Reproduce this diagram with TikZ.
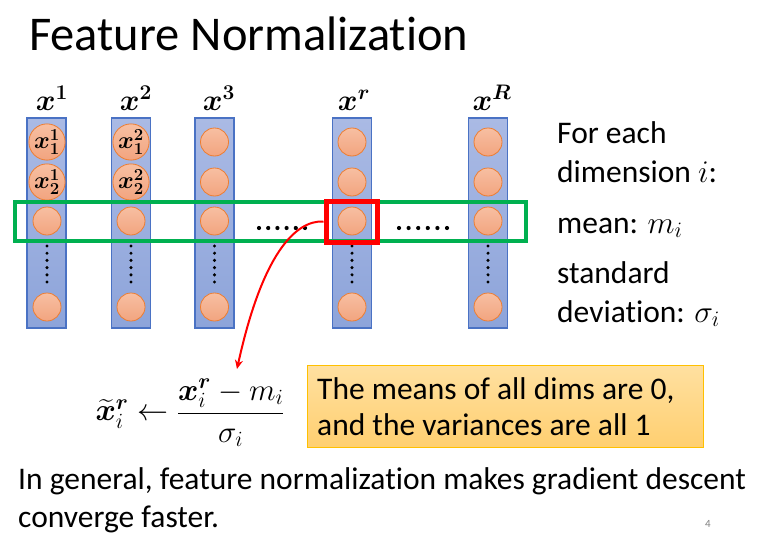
\RequirePackage{fix-cm}
\documentclass[tikz,border=0pt]{standalone}
\usepackage{amsmath}
\usepackage{bm}
\usepackage{fontspec}
\setmainfont{Carlito}[Ligatures=NoCommon]
\usetikzlibrary{arrows.meta}
\definecolor{colTop}{HTML}{AABAE4}
\definecolor{colBot}{HTML}{8DA4DA}
\definecolor{colLine}{HTML}{4A72C4}
\definecolor{cirTop}{HTML}{F7BFA2}
\definecolor{cirBot}{HTML}{F2A47F}
\definecolor{cirLine}{HTML}{ED7D31}
\definecolor{grn}{HTML}{00B050}
\definecolor{ylTop}{HTML}{FFE0A0}
\definecolor{ylBot}{HTML}{FFCF70}
\definecolor{ylLine}{HTML}{FFC000}
\begin{document}
\begin{tikzpicture}[x=1pt,y=-1pt,
  colbox/.style={draw=colLine, line width=1.2pt, top color=colTop, bottom color=colBot, minimum width=39pt, minimum height=210pt, inner sep=0pt},
  cir/.style={circle, draw=cirLine, line width=0.8pt, top color=cirTop, bottom color=cirBot, minimum size=28pt, inner sep=0pt, font=\fontsize{24}{24}\selectfont},
  lab/.style={font=\fontsize{30}{30}\selectfont, anchor=base, inner sep=0pt},
  body/.style={font=\fontsize{31.5}{31.5}\selectfont, anchor=base west, inner sep=0pt},
  dotc/.style={fill=black, circle, inner sep=0pt, minimum size=4.2pt}
]
\useasboundingbox (0,0) rectangle (759,535);
\node[font=\fontsize{48.5}{48.5}\selectfont, anchor=base west, inner sep=0pt] (title) at (29,50) {Feature Normalization};

% columns
\foreach \n/\x in {c1/46.5, c2/131, c3/214.5, cr/352, cR/488}{
  \node[colbox] (\n) at (\x,223) {};
}
% labels
\node[lab] (l1) at (52,110) {$\bm{x^1}$};
\node[lab] (l2) at (136,110) {$\bm{x^2}$};
\node[lab] (l3) at (219,110) {$\bm{x^3}$};
\node[lab] (lr) at (354,110) {$\bm{x^r}$};
\node[lab] (lR) at (492,110) {$\bm{x^R}$};

% circles
\node[cir] (a1) at (47,142) {$\bm{x_1^1}$};
\node[cir] (a2) at (47,182) {$\bm{x_2^1}$};
\node[cir] (b1) at (131,142) {$\bm{x_1^2}$};
\node[cir] (b2) at (131,182) {$\bm{x_2^2}$};
\node[cir] (c3a) at (214.5,142) {};
\node[cir] (c3b) at (214.5,182) {};
\node[cir] (cra) at (352,142) {};
\node[cir] (crb) at (352,182) {};
\node[cir] (cRa) at (488,142) {};
\node[cir] (cRb) at (488,182) {};
\foreach \n/\x in {1/47, 2/131, 3/214.5, r/352, R/488}{
  \node[cir] (m\n) at (\x,221) {};
  \node[cir] (e\n) at (\x,307) {};
  \foreach \k in {0,...,5}{
    \node[dotc, minimum size=3.4pt] (v\n\k) at (\x,{246+\k*7.2}) {};
  }
}
% horizontal dots
\foreach \k in {0,...,5}{
  \node[dotc] (h\k) at ({259+\k*9.2},228) {};
  \node[dotc] (k\k) at ({399+\k*9.6},228) {};
}
% green row and red selection
\node[draw=grn, line width=4pt, minimum width=511pt, minimum height=39pt, inner sep=0pt] (row) at (270.5,221.5) {};
\node[draw=red, line width=5pt, minimum width=51pt, minimum height=41pt, inner sep=0pt] (sel) at (351.5,221.5) {};

% formula
\node[font=\fontsize{31}{31}\selectfont, inner sep=0pt] (form) at (190,413) {$\widetilde{\bm{x}}_i^{\bm{r}} \leftarrow \dfrac{\bm{x}_i^{\bm{r}} - m_i}{\sigma_i}$};
\coordinate (tip) at (237,369);
\draw[red, line width=2pt, -{Stealth[length=9pt,width=8pt]}] (sel.west) .. controls (295,220) and (262,255) .. (tip);

% yellow box
\node[draw=ylLine, line width=1pt, top color=ylTop, bottom color=ylBot, minimum width=396pt, minimum height=82pt, anchor=north west, inner sep=0pt] (note) at (307,365) {};
\node[body] (n1) at (317,399) {The means of all dims are 0,};
\node[body] (n2) at (317,435) {and the variances are all 1};

% right text
\node[body] (t1) at (557,143) {For each};
\node[body] (t2) at (557,182) {dimension $i$:};
\node[body] (t3) at (557,233) {mean: $m_i$};
\node[body] (t4) at (557,283) {standard};
\node[body] (t5) at (557,322) {deviation: $\sigma_i$};

% bottom
\node[body] (b1t) at (18,489) {In general, feature normalization makes gradient descent};
\node[body] (b2t) at (18,527) {converge faster.};
\node[font=\fontsize{11}{11}\selectfont, text=gray, anchor=base] (pg) at (708,527) {4};
\end{tikzpicture}
\end{document}
